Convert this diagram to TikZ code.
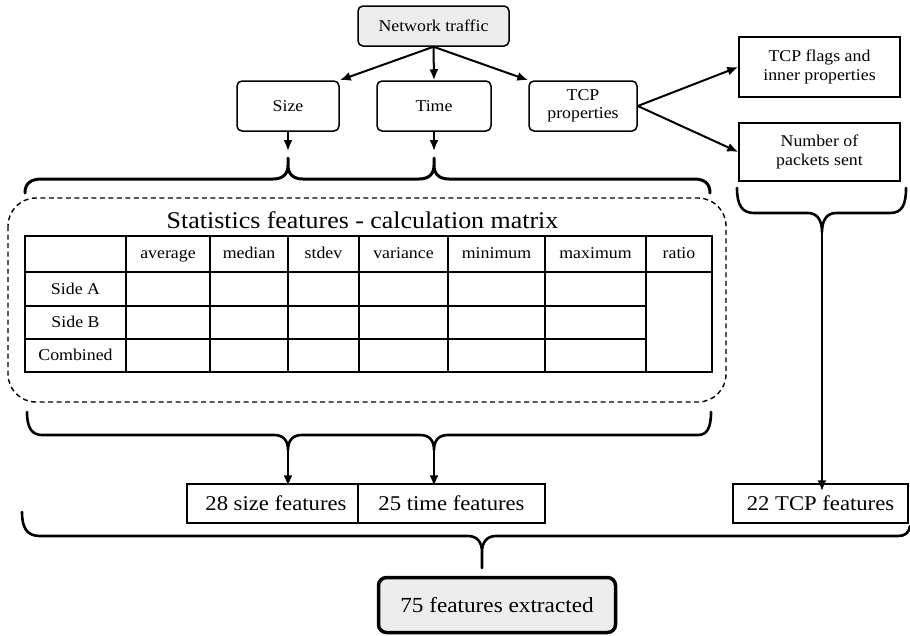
\documentclass[tikz,border=0pt]{standalone}
\usepackage{fontspec}
\setmainfont{Liberation Serif}[FakeStretch=1.08]
\usetikzlibrary{arrows.meta}
\definecolor{boxfill}{HTML}{EDEDED}
\tikzset{
  box/.style={draw, line width=1.5pt, align=center, inner sep=0pt},
  rbox/.style={box, rounded corners=5pt},
  arr/.style={-{Latex[length=11pt,width=9pt]}, line width=2pt},
  brace/.style={line width=2.6pt, line cap=round, line join=round},
  tline/.style={line width=1.6pt},
  cell/.style={inner sep=0pt, text height=0.7em, text depth=0.25em, font=\fontsize{16.5}{19}\selectfont},
  txt/.style={font=\fontsize{16.5}{20}\selectfont},
  big/.style={font=\fontsize{21}{24}\selectfont},
}
\begin{document}
\begin{tikzpicture}[x=1pt,y=-1pt]
\useasboundingbox (0,0) rectangle (910,635);

% top nodes
\node[rbox, fill=boxfill, minimum width=151pt, minimum height=40pt, txt] (net) at (433.5,26) {Network traffic};
\node[rbox, minimum width=102pt, minimum height=50pt, txt] (size) at (288,106) {Size};
\node[rbox, minimum width=114pt, minimum height=50pt, txt] (time) at (434,106) {Time};
\node[rbox, minimum width=108pt, minimum height=50pt, txt] (tcp) at (583,106) {TCP\\[-2pt]properties};
\node[box, minimum width=161pt, minimum height=60pt, txt] (flags) at (819.5,67) {TCP flags and\\[-1pt]inner properties};
\node[box, minimum width=161pt, minimum height=58pt, txt] (number) at (819.5,152) {Number of\\[-1pt]packets sent};

\draw[arr] (net.south) -- (size.north east);
\draw[arr] (net.south) -- (time.north);
\draw[arr] (net.south) -- (tcp.north west);
\draw[arr] (tcp.east) -- (flags.west);
\draw[arr] (tcp.east) -- (number.west);

% arrows into top brace
\coordinate (ta) at (288,151);
\coordinate (tb) at (434,151);
\draw[arr] (size.south) -- (ta);
\draw[arr] (time.south) -- (tb);

% top brace
\draw[brace, line width=3pt] (25,193) .. controls (25,184) and (30,179) .. (42,179) -- (273,179)
  .. controls (283,179) and (288,174) .. (288,165) -- (288,158)
  (288,165) .. controls (288,174) and (293,179) .. (303,179) -- (419,179)
  .. controls (429,179) and (434,174) .. (434,165) -- (434,158)
  (434,165) .. controls (434,174) and (439,179) .. (449,179) -- (694,179)
  .. controls (705,179) and (710,184) .. (710,193);

% dashed container
\draw[line width=1.4pt, dash pattern=on 5pt off 3.5pt, rounded corners=28pt] (8,198) rectangle (726,402);
\node[anchor=base, font=\fontsize{24}{28}\selectfont] (title) at (362.5,228) {Statistics features - calculation matrix};

% table
\draw[tline] (25,236) rectangle (712,372);
\draw[tline] (25,272) -- (712,272);
\draw[tline] (25,306) -- (646,306);
\draw[tline] (25,339) -- (646,339);
\foreach \cx in {126,210,288,359,448,545,646} {\draw[tline] (\cx,236) -- (\cx,372);}
\node[cell] (h1) at (168,256.5) {average};
\node[cell] (h2) at (249,256.5) {median};
\node[cell] (h3) at (323.5,256.5) {stdev};
\node[cell] (h4) at (403.5,256.5) {variance};
\node[cell] (h5) at (496.5,256.5) {minimum};
\node[cell] (h6) at (595.5,256.5) {maximum};
\node[cell] (h7) at (679,256.5) {ratio};
\node[cell] (r1) at (75.5,292) {Side A};
\node[cell] (r2) at (75.5,325.5) {Side B};
\node[cell] (r3) at (75.5,358) {Combined};

% bottom table brace
\draw[brace] (27,412) .. controls (27,428) and (32,435) .. (42,435) -- (274,435)
  .. controls (283,435) and (288,440) .. (288,450)
  .. controls (288,440) and (293,435) .. (302,435) -- (420,435)
  .. controls (429,435) and (434,440) .. (434,450)
  .. controls (434,440) and (439,435) .. (448,435) -- (698,435)
  .. controls (707,435) and (711,428) .. (711,412);
\coordinate (ba) at (288,450);
\coordinate (bb) at (434,450);

% right brace
\draw[brace] (737,188) .. controls (737,205) and (742,213) .. (754,213) -- (808,213)
  .. controls (817,213) and (822,220) .. (822,232)
  .. controls (822,220) and (827,213) .. (836,213) -- (890,213)
  .. controls (902,213) and (906,205) .. (906,188);
\coordinate (bc) at (822,232);

% feature boxes
\node[box, minimum width=171pt, minimum height=39pt] (s28) at (272.5,503.5) {};
\node[big, anchor=east] (s28t) at (350,503.5) {28 size features};
\node[box, minimum width=187pt, minimum height=39pt, big] (t25) at (451.5,503.5) {25 time features};
\node[box, minimum width=175pt, minimum height=39pt, big] (tcp22) at (820.5,503.5) {22 TCP features};

\draw[arr] (ba) -- ([yshift=-3pt]ba |- s28.north);
\draw[arr] (bb) -- ([yshift=-3pt]bb |- t25.north);
\draw[arr] (bc) -- ([yshift=-8pt]bc |- tcp22.north);

% big bottom brace
\draw[brace] (22,512) .. controls (22,528) and (27,536) .. (40,536) -- (468,536)
  .. controls (477,536) and (482,542) .. (482,552) -- (482,568)
  (482,552) .. controls (482,542) and (487,536) .. (496,536) -- (898,536)
  .. controls (905,536) and (909,533) .. (910,526);
\coordinate (bd) at (482,568);

% final
\node[draw, line width=3.5pt, rounded corners=8pt, fill=boxfill, minimum width=237pt, minimum height=55pt, font=\fontsize{21.5}{25}\selectfont] (final) at (497,605) {75 features extracted};
\end{tikzpicture}
\end{document}
